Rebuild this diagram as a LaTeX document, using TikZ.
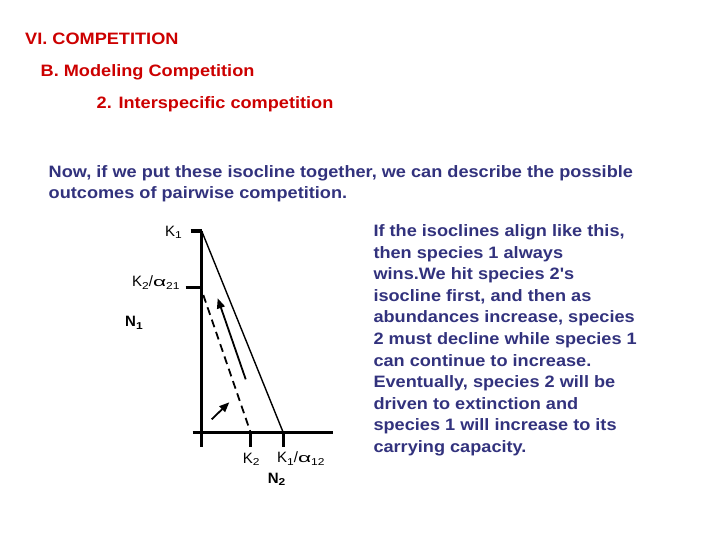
\documentclass[tikz,border=0pt]{standalone}
\usepackage{fontspec}
\setmainfont{Liberation Sans}
\newfontfamily\widefont[FakeStretch=1.1]{Liberation Sans}
\usetikzlibrary{arrows.meta}
\definecolor{titlered}{RGB}{204,0,0}
\definecolor{bodyblue}{RGB}{50,50,125}
\newcommand{\sbs}[1]{\raisebox{-2.5pt}{\scalebox{1.2}[1]{\fontsize{10}{12}\selectfont #1}}}
\newcommand{\alf}{\scalebox{1.75}[1]{\fontsize{13}{15}\selectfont α}}
\begin{document}
\begin{tikzpicture}[x=1pt,y=-1pt,
  txt/.style={inner sep=0pt,anchor=base west,font=\widefont\fontsize{16.5}{19}\selectfont\bfseries},
  head/.style={txt,text=titlered},
  body/.style={txt,text=bodyblue},
  lab/.style={inner sep=0pt,font=\fontsize{15}{18}\selectfont},
  axis/.style={line width=3pt},
  iso/.style={line width=1.4pt},
  dashiso/.style={line width=1.8pt,dash pattern=on 8pt off 5pt},
  traj/.style={line width=1.8pt,-{Triangle[length=10pt,width=8pt]}}]
\useasboundingbox (0,0) rectangle (720,540);
% headings
\node[head] (h1) at (25,45) {VI. COMPETITION};
\node[head] (h2) at (40.5,76.5) {B. Modeling Competition};
\node[head] (h3) at (96.5,108.5) {2. Interspecific competition};
% intro
\node[body] (i1) at (48.5,177.5) {Now, if we put these isocline together, we can describe the possible};
\node[body] (i2) at (48.5,198.5) {outcomes of pairwise competition.};
% right text
\foreach \t [count=\i from 0] in {%
  {If the isoclines align like this,},
  {then species 1 always},
  {wins.We hit species 2's},
  {isocline first, and then as},
  {abundances increase, species},
  {2 must decline while species 1},
  {can continue to increase.},
  {Eventually, species 2 will be},
  {driven to extinction and},
  {species 1 will increase to its},
  {carrying capacity.}}
  \node[body] (r\i) at (373.3,236.7+21.56*\i) {\t};
% graph coordinates
\coordinate (O) at (201.7,432.7);
\coordinate (K1) at (201.7,231);
\coordinate (K1t) at (190.5,231);
\coordinate (Ka) at (201.7,287);
\coordinate (Kat) at (185.5,287);
\coordinate (Vbot) at (201.7,447);
\coordinate (Hl) at (192.5,432.7);
\coordinate (Hr) at (333,432.7);
\coordinate (K2) at (250.7,432.7);
\coordinate (K2b) at (250.7,447);
\coordinate (Kb) at (283.3,432.7);
\coordinate (Kbb) at (283.3,447);
\coordinate (D1) at (203.3,295);
\coordinate (A1s) at (245.7,379.3);
\coordinate (A1e) at (217.7,298.3);
\coordinate (A2s) at (211.7,419.3);
\coordinate (A2e) at (229.3,402.3);
% axes and ticks
\draw[axis] (K1) -- (Vbot);
\draw[axis] (Hl) -- (Hr);
\draw[axis] (K1t) -- (K1);
\draw[axis] (Kat) -- (Ka);
\draw[axis] (K2) -- (K2b);
\draw[axis] (Kb) -- (Kbb);
% isoclines
\draw[iso] (K1) -- (Kb);
\draw[dashiso] (D1) -- (K2);
% trajectories
\draw[traj] (A1s) -- (A1e);
\draw[traj] (A2s) -- (A2e);
% labels
\node[lab,anchor=base west] (lK1) at (165,236.3) {K\sbs{1}};
\node[lab,anchor=base west] (lKa) at (132,286.7) {K\sbs{2}/\alf\sbs{21}};
\node[lab,anchor=base west,font=\fontsize{15}{18}\selectfont\bfseries] (lN1) at (125,326.7) {N\sbs{1}};
\node[lab,anchor=base west] (lK2) at (242.7,463) {K\sbs{2}};
\node[lab,anchor=base west] (lKb) at (277,462.5) {K\sbs{1}/\alf\sbs{12}};
\node[lab,anchor=base west,font=\fontsize{15}{18}\selectfont\bfseries] (lN2) at (267.7,483) {N\sbs{2}};
\end{tikzpicture}
\end{document}
